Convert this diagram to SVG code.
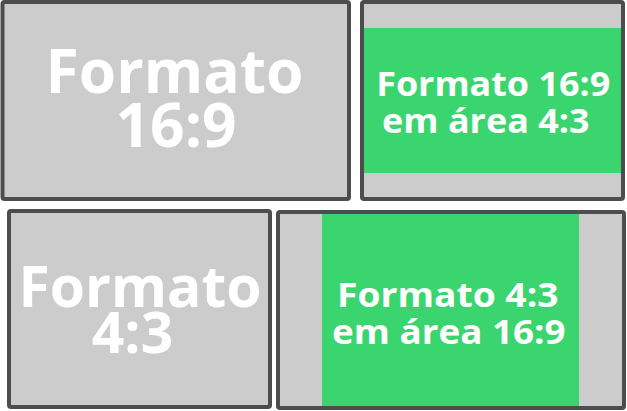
<svg xmlns="http://www.w3.org/2000/svg" width="627" height="411" viewBox="0 0 627 411">
<style>
.frame{fill:#cccccc;stroke:#4d4d4d;stroke-width:4}
.green{fill:#3bd570}
text{font-family:"Open Sans","Noto Sans",sans-serif;font-weight:bold;fill:#ffffff;text-anchor:middle}
.big{font-size:60.5px}
.mid{font-size:57px}
.small{font-size:34px}
</style>
<rect width="627" height="411" fill="#ffffff"/>
<g id="node-169">
<rect class="frame" x="2.5" y="2" width="346.5" height="197" rx="2"/>
<text class="big" x="174.5" y="93.3">Formato</text>
<text class="big" x="176" y="147.3">16:9</text>
</g>
<g id="node-169-in-43">
<rect class="frame" x="362" y="2" width="261" height="197" rx="2"/>
<rect class="green" x="364" y="28" width="257" height="145"/>
<text class="small" x="493.2" y="96" textLength="234" lengthAdjust="spacingAndGlyphs">Formato 16:9</text>
<text class="small" x="485.8" y="132.7" textLength="207.5" lengthAdjust="spacingAndGlyphs">em área 4:3</text>
</g>
<g id="node-43">
<rect class="frame" x="9" y="211" width="261" height="196" rx="2"/>
<text class="mid" x="140" y="306.7" textLength="243" lengthAdjust="spacingAndGlyphs">Formato</text>
<text class="mid" x="132.5" y="353.3">4:3</text>
</g>
<g id="node-43-in-169">
<rect class="frame" x="278" y="212" width="346" height="196" rx="2"/>
<rect class="green" x="322" y="214" width="257" height="192"/>
<text class="small" x="447.8" y="306.7" textLength="221.5" lengthAdjust="spacingAndGlyphs">Formato 4:3</text>
<text class="small" x="448.8" y="344" textLength="233.5" lengthAdjust="spacingAndGlyphs">em área 16:9</text>
</g>
<g id="connectors"></g>
</svg>
